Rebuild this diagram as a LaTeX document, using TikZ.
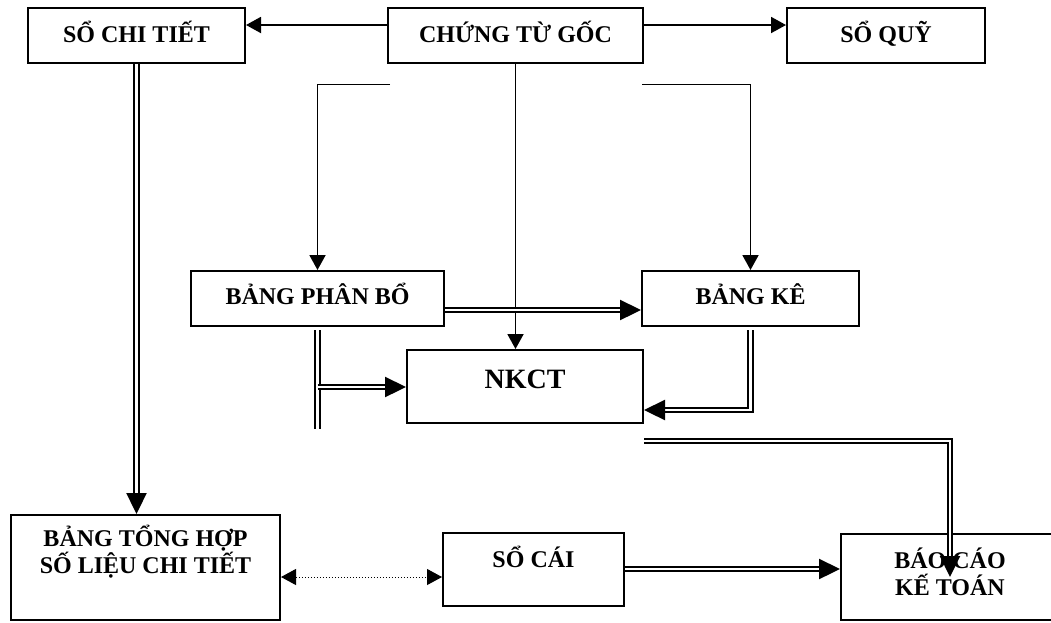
\documentclass[tikz,border=0pt]{standalone}
\usepackage{fontspec}
\setmainfont{Liberation Serif}
\usetikzlibrary{arrows.meta,calc}
\tikzset{
  box/.style={draw,line width=2pt,inner sep=0pt,align=center,
    font=\bfseries\fontsize{24}{26}\selectfont,text height=16pt,text depth=2pt},
  one/.style={line width=1.9pt,-{Triangle[length=15pt,width=16pt]}},
  two/.style={double,line width=2.3pt,double distance=2.3pt},
  twoarr/.style={two,-{Triangle[length=21pt,width=20pt]}},
  dots/.style={dotted,line width=1pt,
    {Triangle[length=15pt,width=16pt]}-{Triangle[length=15pt,width=16pt]}}
}
\begin{document}
\begin{tikzpicture}[x=1pt,y=-1pt]
  \useasboundingbox (0,0) rectangle (1051,622);
  % top row
  \node[box,minimum width=217pt,minimum height=55pt] (sct) at (136.5,35.5) {SỔ CHI TIẾT};
  \node[box,minimum width=255pt,minimum height=55pt] (ctg) at (515.5,35.5) {CHỨNG TỪ GỐC};
  \node[box,minimum width=198pt,minimum height=55pt] (squy) at (886,35.5) {SỔ QUỸ};
  % middle
  \node[box,minimum width=253pt,minimum height=55pt,text depth=4pt] (bpb) at (317.5,298.5) {BẢNG PHÂN BỔ};
  \node[box,minimum width=217pt,minimum height=55pt,text depth=4pt] (bke) at (750.5,298.5) {BẢNG KÊ};
  \node[box,minimum width=236pt,minimum height=73pt,font=\bfseries\fontsize{28}{30}\selectfont,
    text height=18pt,text depth=15pt] (nkct) at (525,386.5) {NKCT};
  % bottom row
  \node[box,minimum width=269pt,minimum height=105pt,text height=42pt,text depth=30pt] (bth) at (145.5,567.5)
    {BẢNG TỔNG HỢP\\SỐ LIỆU CHI TIẾT};
  \node[box,minimum width=181pt,minimum height=73pt,text depth=21pt] (scai) at (533.5,569.5) {SỔ CÁI};
  \node[box,minimum width=218pt,minimum height=86pt,font=\bfseries\fontsize{24}{27}\selectfont,
    text height=43pt,text depth=7pt] (bcao) at (950,577) {BÁO CÁO\\KẾ TOÁN};
  % free ends of the connectors
  \coordinate (l0) at (390,84.5);
  \coordinate (r0) at (642,84.5);
  \coordinate (kt0) at ($(nkct.south east)+(0,17)$);
  % single arrows
  \draw[one] (ctg.west |- 0,25) -- (sct.east |- 0,25);
  \draw[one] (ctg.east |- 0,25) -- (squy.west |- 0,25);
  \draw[one] (l0) -- (bpb.north |- l0) -- (bpb.north);
  \draw[one] (r0) -- (bke.north |- r0) -- (bke.north);
  \draw[one] (ctg.south) -- (nkct.north -| ctg.south);
  % double arrows
  \draw[twoarr] (bpb.east |- 0,310) -- (bke.west |- 0,310);
  \draw[two] ($(bpb.south)+(0,3)$) -- ($(bpb.south)+(0,102)$);
  \draw[twoarr] (bpb.south |- 0,387) -- (nkct.west |- 0,387);
  \draw[twoarr] ($(bke.south)+(0,3)$) |- (nkct.east |- 0,410);
  \draw[twoarr] (kt0) -| (bcao.center);
  \draw[twoarr] (sct.south) -- (sct.south |- bth.north);
  \draw[twoarr] (scai.east |- 0,569) -- (bcao.west |- 0,569);
  % dotted link
  \draw[dots] (bth.east |- 0,577) -- (scai.west |- 0,577);
\end{tikzpicture}
\end{document}
